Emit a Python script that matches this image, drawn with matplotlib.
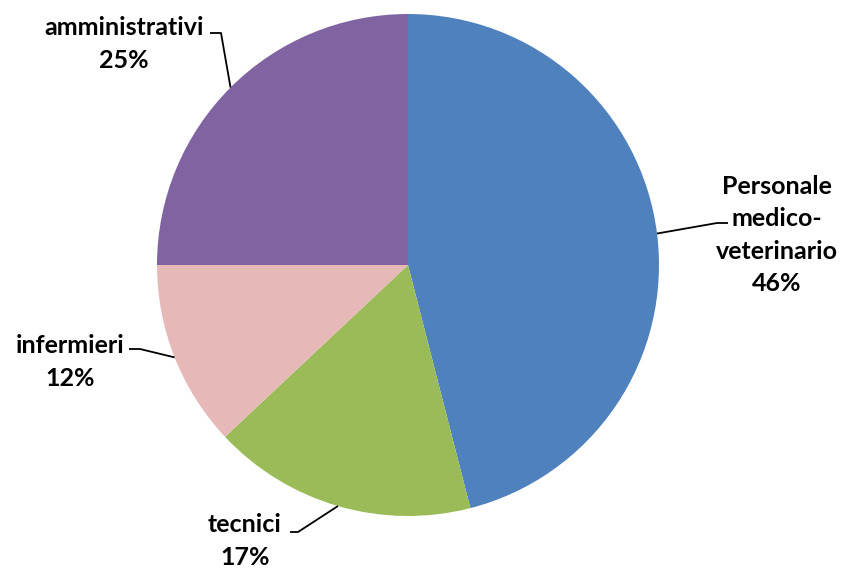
import numpy as np
import matplotlib.pyplot as plt

# ---- data ----
labels = ["Personale\nmedico-\nveterinario", "tecnici", "infermieri", "amministrativi"]
shares = [46, 17, 12, 25]
colors = ["#4F81BD", "#9BBB59", "#E6B9B8", "#8064A2"]

# ---- layout (pixel units, y measured from top) ----
W, H = 843, 568
center = (408, 265)
radius = 251
# label block centre, elbow point, end of short horizontal tick
label_pos = [(777, 235), (245, 541), (70, 362), (124, 44)]
elbows = [(717, 223), (298, 532), (140, 349), (221, 33)]
tick_end = [(728, 223), (290, 532), (129, 349), (210, 33)]

fig = plt.figure(figsize=(W / 100, H / 100), dpi=100)
ax = fig.add_axes([0, 0, 1, 1])

def fy(y):
    return H - y

wedges, _ = ax.pie(shares, colors=colors, startangle=90, counterclock=False,
                   center=(center[0], fy(center[1])), radius=radius,
                   wedgeprops=dict(linewidth=0), frame=True)
ax.set_xlim(0, W)
ax.set_ylim(0, H)
ax.set_aspect("equal")
ax.axis("off")

for w, lab, v, lp, el, te in zip(wedges, labels, shares, label_pos, elbows, tick_end):
    ang = np.deg2rad((w.theta1 + w.theta2) / 2)
    px = center[0] + radius * np.cos(ang)
    py = fy(center[1]) + radius * np.sin(ang)
    ax.plot([px, el[0], te[0]], [py, fy(el[1]), fy(te[1])], color="black", lw=1.3,
            solid_capstyle="butt")
    ax.text(lp[0], fy(lp[1]), f"{lab}\n{v}%", ha="center", va="center",
            fontsize=18, fontweight="bold", family=["Lato", "DejaVu Sans"],
            linespacing=1.5, color="black")

fig.savefig("out.png", dpi=100)
